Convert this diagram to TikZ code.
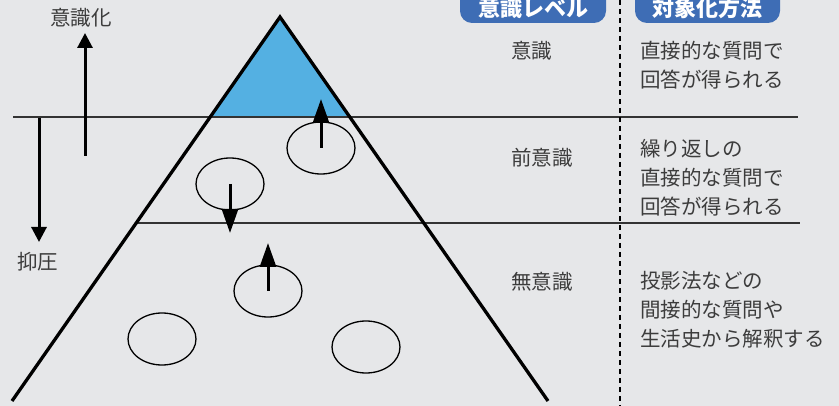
\documentclass[tikz,border=0pt]{standalone}
\usepackage{fontspec}
\newfontfamily\cjk{Noto Sans CJK JP}
\usetikzlibrary{arrows.meta,shapes.geometric}
\definecolor{bg}{HTML}{E6E7E9}
\definecolor{skyblue}{HTML}{54B0E2}
\definecolor{pillblue}{HTML}{3E6DB5}
\definecolor{txt}{HTML}{3C3C3C}
\tikzset{
  body/.style={inner sep=0pt, text=txt, font=\cjk\fontsize{20.5}{29}\selectfont, align=left},
  pill/.style={fill=pillblue, rounded corners=12pt, minimum height=36pt, inner sep=0pt},
  pilltext/.style={text=white, font=\cjk\bfseries\fontsize{22}{24}\selectfont, inner sep=0pt},
  sidearrow/.style={line width=3pt, -{Triangle[width=15pt,length=15pt]}},
  bubblearrow/.style={line width=3pt, -{Triangle[width=16pt,length=24pt]}},
  bubble/.style={draw=black, line width=1.3pt, ellipse, minimum width=68pt, minimum height=52pt, inner sep=0pt},
  level/.style={draw=black!80, line width=1.5pt},
}
\begin{document}
\begin{tikzpicture}[x=1pt,y=-1pt]
\useasboundingbox (0,0) rectangle (839,406);
\clip (0,0) rectangle (839,406);
\fill[bg] (0,0) rectangle (839,406);
% blue tip
\fill[skyblue] (280,17) -- (210,117) -- (350,117) -- cycle;
% level lines
\coordinate (l1a) at (13,117); \coordinate (l1b) at (798,117);
\coordinate (l2a) at (137,223); \coordinate (l2b) at (800,223);
\draw[level] (l1a) -- (l1b);
\draw[level] (l2a) -- (l2b);
% triangle
\coordinate (apex) at (280,17);
\coordinate (bl) at (12,401);
\coordinate (br) at (548,401);
\draw[line width=3.3pt] (bl) -- (apex) -- (br);
% dashed divider
\coordinate (dtop) at (620,0); \coordinate (dbot) at (620,406);
\draw[line width=1.2pt, dash pattern=on 5pt off 4pt] (dtop) -- (dbot);
% headers
\node[pill, minimum width=146pt] (h1) at (533,5) {};
\node[pill, minimum width=145pt] (h2) at (707.5,5) {};
\node[pilltext] (h1t) at (533,8) {意識レベル};
\node[pilltext] (h2t) at (707.5,8) {対象化方法};
% level labels
\node[body, anchor=west] (c1) at (511,51) {意識};
\node[body, anchor=west] (c2) at (511,158) {前意識};
\node[body, anchor=west] (c3) at (511,282) {無意識};
% methods
\node[body, anchor=west] (m1) at (640,65.5) {直接的な質問で\\回答が得られる};
\node[body, anchor=west] (m2) at (640,178) {繰り返しの\\直接的な質問で\\回答が得られる};
\node[body, anchor=west] (m3) at (640,309.5) {投影法などの\\間接的な質問や\\生活史から解釈する};
% left side
\node[body, anchor=west] (up) at (50,18) {意識化};
\node[body, anchor=west] (down) at (17,262) {抑圧};
\coordinate (upfrom) at (85,156); \coordinate (upto) at (85,33);
\draw[sidearrow] (upfrom) -- (upto);
\coordinate (dnfrom) at (39,118); \coordinate (dnto) at (39,242);
\draw[sidearrow] (dnfrom) -- (dnto);
% bubbles
\node[bubble] (b1) at (321,148) {};
\node[bubble] (b2) at (230,184) {};
\node[bubble] (b3) at (268,291) {};
\node[bubble] (b4) at (162,339) {};
\node[bubble] (b5) at (366,347) {};
\coordinate (t1) at (321,99);
\coordinate (t2) at (230,233);
\coordinate (t3) at (268,243);
\draw[bubblearrow] (b1.center) -- (t1);
\draw[bubblearrow] (b2.center) -- (t2);
\draw[bubblearrow] (b3.center) -- (t3);
\end{tikzpicture}
\end{document}
